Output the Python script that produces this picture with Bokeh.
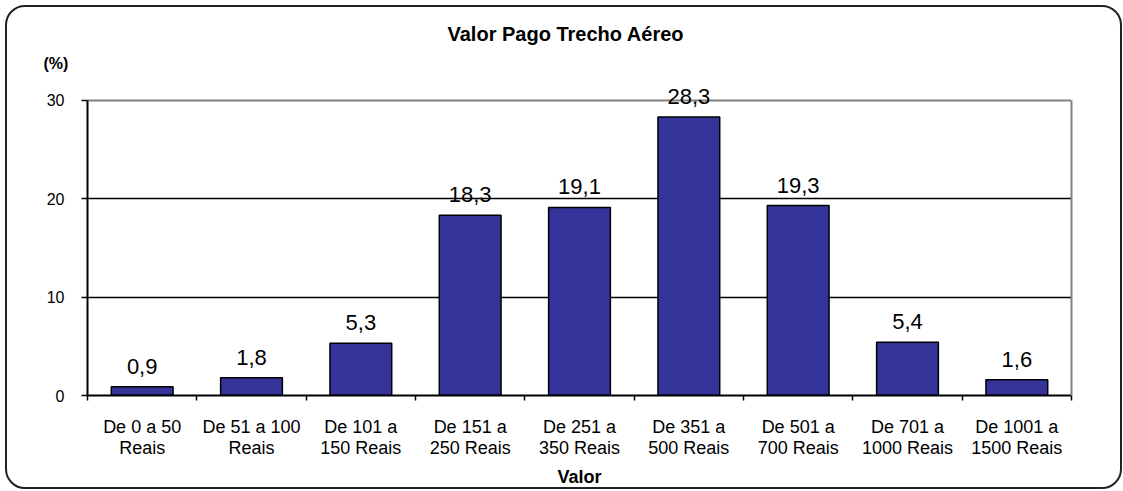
from bokeh.plotting import figure
from bokeh.models import (FixedTicker, ColumnDataSource, LabelSet, Range1d, Title,
                          LinearAxis, Grid)
from bokeh.core.properties import value
from bokeh.embed import file_html
from bokeh.resources import INLINE

categories = ["De 0 a 50\nReais", "De 51 a 100\nReais", "De 101 a\n150 Reais",
              "De 151 a\n250 Reais", "De 251 a\n350 Reais", "De 351 a\n500 Reais",
              "De 501 a\n700 Reais", "De 701 a\n1000 Reais", "De 1001 a\n1500 Reais"]
values = [0.9, 1.8, 5.3, 18.3, 19.1, 28.3, 19.3, 5.4, 1.6]
y_ticks = [0, 10, 20, 30]
title_text = "Valor Pago Trecho Aéreo"
y_unit = "(%)"
x_title = "Valor"

FONT = "Liberation Sans"
n = len(categories)
y_max = y_ticks[-1]
pos = [i + 0.5 for i in range(n)]
src = ColumnDataSource(dict(
    x=pos, top=values,
    label=[f"{v:.1f}".replace(".", ",") for v in values],
))

p = figure(width=1117, height=484, output_backend="svg", toolbar_location=None,
           title=None,
           x_range=Range1d(0, n), y_range=Range1d(0, 32),
           min_border_left=82, min_border_right=51, min_border_top=75, min_border_bottom=93)
p.styles = {"margin-left": "5px", "margin-top": "5px",
            "outline": "2px solid #222222", "outline-offset": "-2px",
            "border-radius": "20px"}
p.outline_line_color = None
p.border_fill_color = None
p.background_fill_color = "white"

p.vbar(x="x", top="top", width=0.565, source=src, fill_color="#333399",
       line_color="black", line_width=1.5)

# grid
p.xgrid.visible = False
p.ygrid.ticker = FixedTicker(ticks=[t for t in y_ticks if 0 < t < y_max])
p.ygrid.grid_line_color = "black"
p.ygrid.grid_line_width = 1.3
p.add_layout(Grid(dimension=1, ticker=FixedTicker(ticks=[y_max]),
                  grid_line_color="#808080", grid_line_width=2))

# x axis
xa = p.xaxis[0]
xa.ticker = FixedTicker(ticks=pos, minor_ticks=list(range(n + 1)))
xa.major_label_overrides = {x: c for x, c in zip(pos, categories)}
xa.major_tick_line_color = None
xa.major_tick_out = 5
xa.major_tick_in = 0
xa.minor_tick_line_color = "black"
xa.minor_tick_out = 5
xa.minor_tick_in = 0
xa.minor_tick_line_width = 1.5
xa.axis_line_color = "black"
xa.axis_line_width = 2
xa.major_label_text_font = FONT
xa.major_label_text_font_size = "18px"
xa.major_label_text_color = "black"
xa.major_label_text_line_height = 1.05
xa.major_label_standoff = 16
xa.axis_label = x_title
xa.axis_label_text_font = FONT
xa.axis_label_text_font_size = "18px"
xa.axis_label_text_font_style = "bold"
xa.axis_label_text_color = "black"
xa.axis_label_standoff = 6
xa.axis_label_text_line_height = 1.0

# y axis
ya = p.yaxis[0]
ya.ticker = FixedTicker(ticks=y_ticks, minor_ticks=[])
ya.bounds = (0, y_max)
ya.major_tick_out = 6
ya.major_tick_in = 0
ya.major_tick_line_color = "black"
ya.major_tick_line_width = 1.5
ya.axis_line_color = "black"
ya.axis_line_width = 2
ya.major_label_text_font = FONT
ya.major_label_text_font_size = "16px"
ya.major_label_text_color = "black"
ya.major_label_standoff = 17

# right frame edge (gray)
ra = LinearAxis(ticker=FixedTicker(ticks=[]), bounds=(0, y_max),
                axis_line_color="#808080", axis_line_width=2,
                major_tick_line_color=None, minor_tick_line_color=None,
                major_label_text_font_size="0px")
p.add_layout(ra, "right")

labels = LabelSet(x="x", y="top", text="label", source=src, text_align="center",
                  text_baseline="alphabetic", y_offset=13, text_font=value(FONT),
                  text_font_size=value("22px"), text_color="black")
p.add_layout(labels)

p.add_layout(Title(text=y_unit, align="left", offset=-44, text_font=FONT,
                   text_font_size="16px", text_font_style="bold",
                   text_color="black", standoff=17), "above")
p.add_layout(Title(text=title_text, align="left", offset=360, text_font=FONT,
                   text_font_size="20px", text_font_style="bold",
                   text_color="black", standoff=0), "above")

open("out.html", "w").write(file_html(p, INLINE))
